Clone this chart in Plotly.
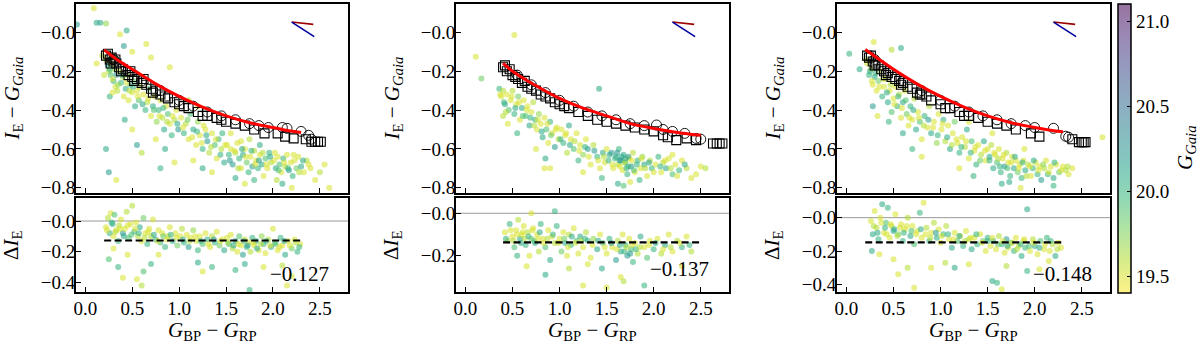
import plotly.graph_objects as go

W, H = 1200, 344
FONT = "Liberation Serif, Times New Roman, DejaVu Serif, serif"

# ------------------------------------------------------------------ data
# panel 1 (top): colour vs I_E - G_Gaia, with G_Gaia colour
p1_top_x = [0.22,0.24,0.25,0.27,0.28,0.3,0.31,0.32,0.33,0.34,0.2,0.26,0.29,0.22,0.25,0.33,0.18,0.12,
            0.36,0.38,0.4,0.41,0.43,0.45,0.46,0.48,0.5,0.52,0.53,0.55,0.57,0.58,0.42,0.5,0.55,0.6,0.44,0.37,0.41,0.5,0.65,
            0.62,0.64,0.66,0.68,0.7,0.72,0.74,0.76,0.78,0.8,0.82,0.84,0.86,0.88,0.9,0.92,0.95,0.97,0.99,0.75,0.85,0.95,0.7,0.9,0.8,
            1.02,1.05,1.07,1.1,1.12,1.15,1.18,1.2,1.22,1.25,1.28,1.3,1.32,1.35,1.38,1.4,1.42,1.45,1.48,1.15,1.25,1.35,1.1,1.2,
            1.51,1.53,1.55,1.57,1.6,1.62,1.64,1.66,1.68,1.7,1.72,1.74,1.76,1.78,1.8,1.82,1.84,1.86,1.88,1.9,1.92,1.94,1.96,1.98,1.6,1.7,1.8,1.55,1.75,
            2.01,2.03,2.05,2.07,2.09,2.11,2.13,2.15,2.17,2.19,2.21,2.23,2.25,2.27,2.3,2.33,2.36,2.4,2.45,2.5,2.55,2.6,2.1,2.2,
            0.09,0.12,0.16,0.22,-0.09]
p1_top_y = [-0.14,-0.17,-0.2,-0.22,-0.16,-0.25,-0.19,-0.28,-0.22,-0.3,-0.22,-0.33,-0.31,-0.6,-0.72,-0.76,-0.12,-0.16,
            -0.2,-0.26,-0.23,-0.33,-0.29,-0.22,-0.35,-0.27,-0.31,-0.25,-0.38,-0.3,-0.35,-0.28,-0.45,-0.5,-0.58,-0.62,0.01,-0.01,-0.07,-0.1,-0.06,
            -0.32,-0.4,-0.36,-0.29,-0.43,-0.38,-0.33,-0.46,-0.4,-0.35,-0.44,-0.5,-0.38,-0.42,-0.47,-0.53,-0.45,-0.4,-0.5,-0.55,-0.6,-0.67,-0.13,-0.18,-0.7,
            -0.44,-0.52,-0.47,-0.55,-0.42,-0.5,-0.58,-0.46,-0.53,-0.6,-0.5,-0.56,-0.62,-0.52,-0.58,-0.65,-0.55,-0.6,-0.67,-0.66,-0.7,-0.72,-0.35,-0.38,
            -0.58,-0.63,-0.6,-0.68,-0.62,-0.57,-0.65,-0.7,-0.63,-0.6,-0.67,-0.72,-0.64,-0.69,-0.61,-0.66,-0.7,-0.63,-0.68,-0.74,-0.65,-0.7,-0.62,-0.67,-0.75,-0.78,-0.76,-0.52,-0.55,
            -0.66,-0.7,-0.64,-0.68,-0.72,-0.65,-0.69,-0.63,-0.71,-0.67,-0.74,-0.66,-0.7,-0.64,-0.69,-0.72,-0.66,-0.7,-0.76,-0.72,-0.68,-0.8,-0.78,-0.8,
            0.124,0.05,0.05,0.046,0.04]
p1_top_g = [19.5,20.1,19.6,19.9,19.5,20.0,19.7,19.5,20.2,19.6,19.55,20.0,19.5,20.1,20.2,19.5,19.6,19.5,
            19.5,20.0,19.6,19.5,20.1,19.7,19.5,20.0,19.5,19.8,20.1,19.5,19.9,19.6,20.1,19.5,20.2,19.6,20.1,19.5,20.2,19.5,19.5,
            19.5,20.0,19.6,19.9,19.5,20.1,19.5,19.7,20.0,19.5,19.6,20.1,19.5,19.9,19.5,20.0,19.6,19.5,20.2,19.5,20.1,19.5,19.5,19.5,20.0,
            19.5,20.0,19.6,19.5,19.9,20.1,19.5,19.7,19.5,20.0,19.5,20.2,19.6,19.5,19.9,19.5,20.0,19.6,20.1,19.5,20.1,19.5,19.6,19.5,
            19.5,20.0,19.5,20.2,19.6,19.5,20.0,19.5,20.1,19.5,19.8,20.0,19.5,20.2,19.6,19.5,20.0,19.5,20.1,19.5,19.9,19.5,20.0,19.6,20.1,19.5,20.0,19.5,19.6,
            19.5,20.1,19.5,19.9,19.5,20.0,19.6,19.5,20.2,19.5,20.0,19.5,19.8,19.5,20.1,19.5,19.6,19.5,19.5,19.6,19.5,19.5,20.1,19.5,
            19.5,20.1,20.1,19.7,20.2]
p1_top2_x = [0.26,0.29,0.35,0.39,0.44,0.47,0.51,0.56,0.61,0.67,0.73,0.79,0.83,0.87,0.93,0.98,1.04,1.09,1.14,1.19,
             1.24,1.29,1.34,1.39,1.44,1.49,1.54,1.59,1.63,1.67,1.71,1.77,1.81,1.85,1.89,1.93,1.97,2.02,2.06,2.12,
             2.16,2.22,2.28,2.32,2.38,1.26,1.46,1.66,1.86,2.04]
p1_top2_y = [-0.19,-0.24,-0.27,-0.22,-0.26,-0.3,-0.28,-0.33,-0.37,-0.34,-0.4,-0.43,-0.39,-0.46,-0.43,-0.47,-0.49,-0.45,-0.54,-0.51,
             -0.57,-0.53,-0.59,-0.55,-0.63,-0.58,-0.66,-0.61,-0.7,-0.6,-0.64,-0.61,-0.68,-0.66,-0.62,-0.68,-0.64,-0.62,-0.71,-0.67,
             -0.7,-0.63,-0.72,-0.66,-0.68,-0.48,-0.52,-0.56,-0.58,-0.76]
p1_top2_g = [20.0,19.5,19.7,20.1,19.5,19.6,20.0,19.5,20.1,19.5,19.9,19.5,20.0,19.6,19.5,20.1,19.5,19.8,19.5,20.0,
             19.5,20.1,19.6,19.5,20.0,19.5,20.2,19.5,19.6,20.1,19.5,20.0,19.5,20.2,19.6,19.5,20.1,19.5,19.9,19.5,
             20.0,19.5,19.6,20.1,19.5,19.5,20.0,19.5,20.1,19.6]

# panel 1 (bottom): residuals
p1_bot_x = [0.22,0.24,0.26,0.27,0.29,0.3,0.31,0.33,0.35,0.36,0.38,0.4,0.42,0.44,0.46,0.48,0.5,0.3,0.35,0.4,0.25,0.45,
            0.52,0.54,0.56,0.58,0.6,0.62,0.64,0.66,0.68,0.7,0.72,0.75,0.78,0.8,0.82,0.85,0.88,0.9,0.93,0.96,0.98,0.55,0.6,0.7,0.78,0.62,
            1.01,1.03,1.05,1.08,1.1,1.12,1.15,1.18,1.2,1.22,1.25,1.28,1.3,1.33,1.35,1.38,1.4,1.43,1.46,1.48,1.2,1.25,1.35,
            1.51,1.53,1.55,1.57,1.6,1.62,1.64,1.66,1.68,1.7,1.72,1.74,1.76,1.78,1.8,1.82,1.85,1.88,1.9,1.92,
            1.95,1.98,2.0,2.02,2.05,2.08,2.1,2.13,2.16,2.2,2.23,2.26,2.29,1.7,1.75,1.9,2.1,2.2,1.6,2.15]
p1_bot_y = [-0.04,0.02,-0.08,0.05,-0.02,-0.1,0.04,-0.06,-0.13,-0.03,0.01,-0.08,-0.05,0.06,-0.11,-0.02,0.1,-0.18,-0.3,-0.37,-0.25,-0.22,
            -0.07,-0.01,-0.1,-0.04,-0.13,0.02,-0.08,-0.15,-0.05,-0.1,0.01,-0.12,-0.06,-0.14,-0.08,-0.17,-0.1,-0.04,-0.13,-0.08,-0.16,-0.38,-0.42,-0.28,-0.22,-0.33,
            -0.1,-0.05,-0.14,-0.09,-0.17,-0.11,-0.06,-0.13,-0.19,-0.1,-0.15,-0.08,-0.12,-0.17,-0.1,-0.14,-0.07,-0.16,-0.12,-0.19,-0.27,-0.33,-0.3,
            -0.11,-0.15,-0.09,-0.18,-0.13,-0.2,-0.1,-0.16,-0.22,-0.12,-0.17,-0.14,-0.2,-0.11,-0.16,-0.13,-0.19,-0.1,-0.15,-0.21,
            -0.12,-0.17,-0.05,-0.14,-0.19,-0.11,-0.16,-0.22,-0.13,-0.18,-0.12,-0.2,-0.15,-0.28,-0.45,-0.3,-0.29,-0.36,-0.32,-0.42]
p1_bot_g = [19.5,19.6,20.0,19.5,20.1,19.5,19.9,19.5,20.0,19.6,19.5,20.2,19.5,19.6,19.9,19.5,19.6,19.5,20.0,19.5,19.9,19.5,
            20.0,19.5,19.6,20.1,19.5,19.8,19.5,20.0,19.5,19.6,19.5,20.1,19.5,19.9,19.5,20.0,19.6,19.5,20.1,19.5,19.8,19.5,19.6,20.0,19.5,19.9,
            19.5,19.6,20.0,19.5,20.2,19.5,19.7,19.5,20.0,19.5,19.9,19.5,20.1,19.5,19.6,20.0,19.5,19.8,19.5,20.1,20.1,19.5,20.0,
            19.5,20.0,19.5,19.6,20.1,19.5,19.9,19.5,20.2,19.5,20.0,19.5,19.6,20.0,19.5,20.1,19.5,19.7,20.0,19.5,
            19.6,20.1,19.5,19.9,19.5,20.0,19.5,20.1,19.5,19.8,19.5,20.0,19.5,20.1,20.0,19.5,19.6,19.5,20.0,19.5]
p1_bot2_x = [0.23,0.28,0.32,0.37,0.41,0.45,0.49,0.53,0.57,0.63,0.67,0.73,0.77,0.83,0.87,0.91,0.97,1.04,1.11,1.17,
             1.23,1.31,1.37,1.44,1.52,1.58,1.63,1.69,1.73,1.79,1.83,1.87,1.93,1.97,2.03,2.07,2.12,2.18,2.24,2.28]
p1_bot2_y = [-0.06,-0.01,-0.07,-0.05,-0.1,-0.03,-0.09,-0.05,-0.08,-0.11,-0.07,-0.09,-0.13,-0.1,-0.12,-0.09,-0.11,-0.12,-0.13,-0.1,
             -0.13,-0.15,-0.12,-0.13,-0.14,-0.16,-0.15,-0.13,-0.16,-0.14,-0.18,-0.15,-0.13,-0.16,-0.15,-0.17,-0.13,-0.16,-0.14,-0.17]
p1_bot2_g = [19.5,20.0,19.6,19.5,20.1,19.5,19.9,19.5,20.0,19.6,19.5,20.1,19.5,19.8,19.5,20.0,19.5,20.1,19.6,19.5,
             20.0,19.5,20.2,19.5,19.6,20.1,19.5,20.0,20.2,19.5,20.1,19.6,20.0,19.5,19.9,19.5,20.1,19.5,19.6,20.0]

# panel 2 (top)
p2_top_x = [0.11,0.17,0.52,1.42,0.84,
            0.36,0.38,0.4,0.42,0.44,0.46,0.48,0.5,0.52,0.54,0.56,0.58,0.6,0.45,0.55,0.4,
            0.62,0.64,0.66,0.68,0.7,0.72,0.74,0.76,0.78,0.8,0.82,0.84,0.86,0.88,0.9,0.92,0.95,0.97,0.99,0.75,0.85,0.9,
            1.02,1.04,1.06,1.08,1.1,1.12,1.15,1.18,1.2,1.22,1.25,1.28,1.3,1.33,1.36,1.4,1.43,1.46,1.48,1.25,1.45,
            1.5,1.52,1.55,1.57,1.6,1.62,1.63,1.65,1.67,1.68,1.7,1.72,1.74,1.76,1.78,1.8,1.83,1.86,1.88,1.9,1.93,1.96,1.98,1.62,1.68,1.75,1.85,
            2.02,2.05,2.08,2.1,2.13,2.16,2.2,2.23,2.27,2.3,2.35,2.4,2.5,2.55,2.2]
p2_top_y = [-0.125,-0.237,-0.014,-0.29,-0.7,
            -0.29,-0.33,-0.3,-0.37,-0.32,-0.4,-0.35,-0.3,-0.42,-0.37,-0.33,-0.45,-0.39,-0.47,-0.52,-0.43,
            -0.35,-0.43,-0.38,-0.48,-0.41,-0.36,-0.45,-0.5,-0.42,-0.47,-0.54,-0.44,-0.5,-0.57,-0.46,-0.52,-0.59,-0.49,-0.55,-0.6,-0.65,-0.7,
            -0.5,-0.57,-0.53,-0.62,-0.48,-0.55,-0.6,-0.52,-0.66,-0.58,-0.63,-0.55,-0.6,-0.68,-0.58,-0.64,-0.7,-0.62,-0.67,-0.72,-0.75,
            -0.6,-0.66,-0.62,-0.7,-0.64,-0.68,-0.6,-0.66,-0.71,-0.63,-0.67,-0.73,-0.65,-0.69,-0.62,-0.72,-0.66,-0.7,-0.64,-0.68,-0.74,-0.66,-0.7,-0.78,-0.79,-0.77,-0.76,
            -0.68,-0.64,-0.72,-0.67,-0.7,-0.65,-0.73,-0.68,-0.71,-0.66,-0.7,-0.75,-0.69,-0.7,-0.63]
p2_top_g = [19.5,19.8,19.5,20.1,19.5,
            20.0,19.5,19.6,20.1,19.5,19.9,19.5,19.6,20.0,19.5,19.8,19.5,20.1,19.5,20.0,19.6,
            19.5,19.9,19.5,20.1,19.5,19.6,20.0,19.5,19.7,19.5,20.1,19.5,19.9,19.5,20.0,19.5,20.2,19.5,19.6,19.5,20.1,19.5,
            19.5,20.0,19.5,19.6,20.1,19.5,19.9,19.5,20.0,19.5,19.7,19.5,20.2,19.5,19.6,20.0,19.5,20.1,19.5,19.5,20.0,
            19.5,20.0,20.2,19.5,20.1,19.6,20.0,20.2,19.5,20.1,19.9,20.0,19.5,20.2,19.6,19.5,20.0,19.5,19.7,20.1,19.5,19.6,20.0,20.1,19.9,19.5,20.0,
            19.5,20.0,19.5,19.6,20.1,19.5,19.9,19.5,20.0,19.5,19.6,19.5,19.5,19.6,19.5]
p2_top2_x = [0.37,0.41,0.43,0.49,0.53,0.57,0.61,0.65,0.69,0.73,0.77,0.81,0.87,0.91,0.96,1.01,1.07,1.11,1.16,1.21,
             1.27,1.31,1.37,1.41,1.47,1.53,1.56,1.59,1.61,1.64,1.66,1.69,1.71,1.73,1.77,1.79,1.82,1.87,1.91,1.95,
             2.0,2.07,2.12,2.18,2.25,2.33,2.45,1.64,1.7,1.73]
p2_top2_y = [-0.32,-0.36,-0.41,-0.33,-0.39,-0.36,-0.43,-0.4,-0.44,-0.48,-0.45,-0.51,-0.47,-0.53,-0.5,-0.55,-0.52,-0.58,-0.56,-0.61,
             -0.59,-0.64,-0.61,-0.66,-0.64,-0.63,-0.68,-0.65,-0.62,-0.69,-0.64,-0.67,-0.7,-0.64,-0.66,-0.71,-0.68,-0.65,-0.7,-0.67,
             -0.72,-0.69,-0.66,-0.7,-0.74,-0.68,-0.73,-0.66,-0.65,-0.69]
p2_top2_g = [19.5,20.0,19.6,19.5,20.1,19.5,19.9,19.5,20.0,19.6,19.5,20.1,19.5,19.8,19.5,20.0,19.5,20.1,19.6,19.5,
             20.0,19.5,20.2,19.5,19.6,20.1,19.5,20.0,20.2,19.5,20.1,19.6,20.0,20.2,19.5,19.9,20.0,19.5,19.6,20.1,
             19.5,20.0,19.5,19.6,19.5,20.1,19.5,20.2,20.1,20.0]

# panel 2 (bottom)
p2_bot_x = [0.42,0.45,0.47,0.5,0.52,0.54,0.56,0.58,0.6,0.62,0.64,0.66,0.68,0.7,0.72,0.74,0.76,0.78,0.8,0.82,
            0.85,0.88,0.9,0.92,0.95,0.97,1.0,1.02,1.04,1.06,1.08,1.1,1.12,1.15,1.18,1.2,1.22,1.25,1.28,1.3,
            1.33,1.36,1.4,1.43,1.46,1.5,1.53,1.56,1.6,1.62,1.65,1.67,1.7,1.72,1.74,1.76,1.78,1.8,1.83,1.86,
            1.9,1.93,1.96,2.0,2.04,2.08,2.12,2.16,2.2,2.25,2.3,2.35,2.4,
            0.95,0.7,0.65,0.85,1.1,1.3,1.65,1.68,1.9,1.5,1.25,2.3,1.45,0.55]
p2_bot_y = [-0.09,-0.13,-0.05,-0.11,-0.16,-0.08,-0.03,-0.12,-0.1,-0.06,-0.15,-0.09,-0.2,-0.12,-0.07,-0.14,-0.1,-0.18,-0.05,-0.12,
            -0.16,-0.08,-0.22,-0.11,-0.14,-0.06,-0.12,-0.18,-0.09,-0.14,-0.2,-0.1,-0.15,-0.07,-0.13,-0.19,-0.11,-0.16,-0.09,-0.13,
            -0.21,-0.12,-0.17,-0.1,-0.14,-0.19,-0.12,-0.16,-0.22,-0.13,-0.18,-0.1,-0.15,-0.2,-0.12,-0.17,-0.23,-0.14,-0.19,-0.11,
            -0.16,-0.21,-0.13,-0.17,-0.12,-0.19,-0.15,-0.1,-0.18,-0.13,-0.16,-0.11,-0.18,
            0.01,-0.0,-0.25,-0.29,-0.26,-0.24,-0.3,-0.32,-0.34,-0.35,-0.34,-0.25,-0.26,-0.2]
p2_bot_g = [19.5,19.6,20.0,19.5,19.9,19.5,19.6,20.1,19.5,19.5,20.0,19.6,19.5,19.8,19.5,20.1,19.5,19.6,20.0,19.5,
            19.9,19.5,20.1,19.5,19.6,20.0,19.5,19.8,19.5,20.1,19.5,19.6,20.0,19.5,19.9,19.5,20.1,19.5,19.6,20.0,
            19.5,19.7,20.1,19.5,19.9,19.5,20.0,19.5,20.2,19.6,20.1,19.5,20.0,20.2,19.5,19.9,20.0,19.5,19.6,20.1,
            19.5,19.9,19.5,20.0,19.5,19.6,20.1,19.5,19.5,19.6,20.0,19.5,19.6,
            20.0,19.5,19.5,20.1,19.6,19.5,19.5,19.6,20.0,19.5,19.5,19.5,20.1,20.0]
p2_bot2_x = [0.43,0.48,0.51,0.55,0.59,0.61,0.63,0.67,0.71,0.73,0.77,0.79,0.83,0.87,0.93,0.99,1.05,1.09,1.13,1.17,
             1.23,1.27,1.35,1.41,1.48,1.55,1.61,1.64,1.69,1.71,1.75,1.77,1.81,1.85,1.95,2.02,2.1,2.18,2.28,2.38]
p2_bot2_y = [-0.12,-0.08,-0.13,-0.1,-0.14,-0.09,-0.12,-0.11,-0.08,-0.13,-0.12,-0.09,-0.14,-0.12,-0.1,-0.14,-0.12,-0.16,-0.11,-0.14,
             -0.13,-0.12,-0.15,-0.13,-0.16,-0.14,-0.17,-0.15,-0.18,-0.16,-0.19,-0.15,-0.17,-0.16,-0.15,-0.14,-0.17,-0.16,-0.14,-0.15]
p2_bot2_g = [20.0,19.5,19.6,19.5,20.1,19.5,19.6,20.0,19.5,19.9,19.5,20.1,19.5,19.6,20.0,19.5,19.8,19.5,20.1,19.5,
             19.6,20.0,19.5,20.1,19.5,20.2,19.5,20.1,20.0,19.6,20.2,19.5,20.0,19.6,19.5,20.1,19.5,19.6,19.5,20.0]

# panel 3 (top)
p3_top_x = [0.03,0.14,0.29,0.58,0.48,2.72,
            0.22,0.24,0.26,0.28,0.3,0.32,0.34,0.36,0.38,0.4,0.42,0.44,0.46,0.48,0.5,0.28,0.33,0.45,
            0.52,0.54,0.56,0.58,0.6,0.62,0.64,0.66,0.68,0.7,0.72,0.74,0.76,0.78,0.8,0.83,0.86,0.88,0.9,0.93,0.96,0.98,0.7,0.8,0.6,
            1.01,1.03,1.05,1.08,1.1,1.13,1.15,1.18,1.2,1.23,1.26,1.28,1.3,1.33,1.36,1.38,1.4,1.43,1.46,1.48,1.2,1.35,1.3,
            1.5,1.52,1.54,1.56,1.58,1.6,1.62,1.64,1.66,1.68,1.7,1.72,1.74,1.76,1.78,1.8,1.82,1.84,1.86,1.88,1.9,1.93,1.96,1.98,1.65,1.85,1.55,
            2.01,2.03,2.05,2.07,2.1,2.12,2.14,2.17,2.2,2.23,2.26,2.3,2.33,2.36,2.4,2.2]
p3_top_y = [-0.11,-0.19,-0.05,-0.08,-0.09,-0.54,
            -0.16,-0.22,-0.19,-0.27,-0.23,-0.3,-0.25,-0.2,-0.33,-0.28,-0.24,-0.36,-0.3,-0.41,-0.34,-0.38,-0.43,-0.46,
            -0.28,-0.38,-0.32,-0.44,-0.36,-0.3,-0.42,-0.48,-0.38,-0.45,-0.34,-0.5,-0.41,-0.46,-0.55,-0.43,-0.49,-0.38,-0.52,-0.46,-0.57,-0.42,-0.6,-0.64,-0.52,
            -0.5,-0.45,-0.56,-0.48,-0.6,-0.52,-0.46,-0.57,-0.62,-0.54,-0.59,-0.5,-0.65,-0.56,-0.61,-0.68,-0.58,-0.63,-0.56,-0.66,-0.7,-0.74,-0.46,
            -0.6,-0.66,-0.58,-0.7,-0.63,-0.67,-0.6,-0.72,-0.65,-0.69,-0.62,-0.67,-0.74,-0.64,-0.7,-0.66,-0.72,-0.68,-0.75,-0.66,-0.71,-0.68,-0.74,-0.7,-0.78,-0.8,-0.52,
            -0.67,-0.73,-0.69,-0.76,-0.7,-0.66,-0.73,-0.69,-0.75,-0.68,-0.72,-0.69,-0.71,-0.73,-0.7,-0.79]
p3_top_g = [20.0,20.1,19.5,20.1,19.6,19.5,
            19.5,20.0,19.6,19.5,20.1,19.5,19.8,19.5,20.0,19.5,19.6,20.1,19.5,19.9,19.5,20.2,19.5,20.0,
            19.5,20.0,19.6,19.5,20.1,19.5,19.8,19.5,20.0,19.5,19.6,20.1,19.5,19.9,19.5,20.0,19.5,19.6,20.1,19.5,19.7,19.5,20.0,19.5,20.1,
            19.5,20.0,19.6,19.5,20.1,19.5,19.8,19.5,20.0,19.5,19.6,20.1,19.5,19.9,19.5,20.0,19.5,19.6,20.1,19.5,19.5,20.0,19.5,
            19.5,20.0,19.6,20.1,19.5,19.9,19.5,20.0,19.5,20.2,19.6,19.5,20.0,19.5,20.1,19.5,19.8,19.5,20.0,19.5,20.1,19.6,19.5,20.0,20.1,19.5,19.5,
            19.5,20.0,19.5,20.2,19.6,19.5,20.0,19.5,20.1,19.5,19.8,19.5,19.6,19.5,19.5,20.0]
p3_top2_x = [0.21,0.25,0.27,0.31,0.35,0.39,0.43,0.47,0.51,0.55,0.59,0.63,0.67,0.71,0.77,0.82,0.87,0.92,0.97,1.02,
             1.07,1.12,1.17,1.22,1.27,1.32,1.37,1.42,1.47,1.52,1.57,1.61,1.63,1.67,1.71,1.75,1.79,1.83,1.87,1.91,
             1.95,1.99,2.04,2.09,2.15,2.21,2.28,2.35,1.73,1.89]
p3_top2_y = [-0.14,-0.2,-0.25,-0.21,-0.28,-0.24,-0.31,-0.27,-0.37,-0.33,-0.39,-0.35,-0.44,-0.4,-0.44,-0.48,-0.45,-0.49,-0.53,-0.47,
             -0.54,-0.58,-0.55,-0.59,-0.56,-0.62,-0.59,-0.66,-0.61,-0.64,-0.62,-0.65,-0.69,-0.63,-0.7,-0.67,-0.64,-0.7,-0.67,-0.74,
             -0.69,-0.66,-0.71,-0.68,-0.72,-0.67,-0.71,-0.69,-0.77,-0.6]
p3_top2_g = [19.6,20.1,19.5,20.0,19.5,19.5,20.1,19.6,19.5,20.0,19.5,19.9,19.5,20.1,19.5,19.6,20.2,19.5,20.0,19.5,
             20.1,19.6,19.5,20.0,19.5,20.0,19.5,19.8,19.5,20.1,19.5,19.6,20.0,19.5,19.9,19.5,20.1,19.5,20.0,19.6,
             19.5,20.1,19.5,19.7,19.5,20.0,19.5,19.6,20.1,19.5]

# panel 3 (bottom)
p3_bot_x = [0.26,0.28,0.3,0.32,0.34,0.36,0.38,0.4,0.42,0.44,0.46,0.48,0.5,0.52,0.55,0.58,0.6,0.62,0.65,0.68,
            0.7,0.72,0.75,0.78,0.8,0.82,0.85,0.88,0.9,0.93,0.96,0.98,
            1.0,1.03,1.06,1.09,1.12,1.15,1.18,1.21,1.24,1.27,1.3,1.33,1.36,1.39,1.42,1.45,1.48,
            1.5,1.53,1.56,1.59,1.62,1.65,1.68,1.7,1.72,1.75,1.78,1.8,1.83,1.86,1.88,1.9,1.92,1.95,1.98,2.0,
            2.03,2.06,2.1,2.13,2.16,2.19,2.22,2.25,2.28,
            0.27,0.5,0.55,0.65,0.72,0.9,1.05,1.15,1.3,1.55,1.6,1.65,1.7,1.92,2.05,2.15,0.35]
p3_bot_y = [-0.02,-0.1,0.04,-0.06,-0.13,0.0,0.08,-0.09,-0.03,0.06,-0.12,-0.05,-0.08,0.02,-0.1,-0.04,-0.14,-0.07,0.0,-0.11,
            -0.05,-0.16,-0.08,0.03,-0.12,0.09,-0.06,-0.14,-0.09,-0.03,-0.12,-0.07,
            -0.15,-0.1,-0.05,-0.13,-0.18,-0.09,-0.14,-0.11,-0.17,-0.08,-0.13,-0.19,-0.12,-0.16,-0.1,-0.14,-0.2,
            -0.12,-0.17,-0.14,-0.19,-0.11,-0.16,-0.21,-0.13,-0.18,-0.15,-0.2,-0.12,-0.17,-0.23,-0.14,-0.18,0.05,-0.2,-0.13,-0.17,
            -0.22,-0.14,-0.19,-0.12,-0.2,-0.16,-0.23,-0.15,-0.18,
            -0.2,-0.25,-0.34,-0.3,-0.42,-0.3,-0.27,-0.3,-0.28,-0.38,-0.39,-0.43,-0.29,-0.32,-0.31,-0.26,-0.22]
p3_bot_g = [19.5,20.1,19.5,19.6,20.0,19.5,20.1,19.5,19.9,20.0,19.5,19.6,20.1,19.5,19.8,19.5,20.0,19.5,19.6,20.1,
            19.5,19.9,19.5,20.0,19.5,19.5,19.6,20.0,19.5,19.6,20.1,19.5,
            19.5,20.0,19.6,19.5,20.1,19.5,19.9,19.5,20.0,19.5,19.6,20.1,19.5,20.0,19.5,19.8,19.5,
            20.0,19.5,20.1,19.5,19.6,20.0,19.5,20.2,19.5,19.9,20.0,19.5,19.6,20.1,19.5,20.0,20.1,19.5,19.6,20.1,
            19.5,19.9,19.5,20.0,19.5,19.6,20.1,19.5,19.5,
            20.1,19.5,19.5,19.6,19.5,19.5,19.6,20.1,19.5,20.1,20.0,19.5,19.6,20.0,19.5,19.5,19.5]
p3_bot2_x = [0.29,0.33,0.37,0.41,0.43,0.47,0.51,0.54,0.57,0.61,0.64,0.69,0.74,0.79,0.84,0.89,0.95,1.01,1.08,1.14,
             1.2,1.26,1.32,1.38,1.44,1.5,1.55,1.61,1.66,1.71,1.76,1.81,1.85,1.89,1.94,1.99,2.05,2.11,2.17,2.24]
p3_bot2_y = [-0.05,-0.09,-0.03,-0.06,-0.1,-0.04,-0.07,-0.11,-0.06,-0.09,-0.05,-0.08,-0.1,-0.07,-0.1,-0.12,-0.09,-0.11,-0.1,-0.13,
             -0.11,-0.14,-0.12,-0.1,-0.15,-0.14,-0.12,-0.16,-0.14,-0.17,-0.15,-0.19,-0.16,-0.13,-0.17,-0.15,-0.18,-0.16,-0.14,-0.19]
p3_bot2_g = [19.6,20.1,19.5,20.0,19.5,19.5,20.1,19.6,19.5,20.0,19.5,19.9,19.5,20.1,19.5,19.6,20.2,19.5,20.0,19.5,
             20.1,19.6,19.5,20.0,19.5,20.0,19.5,19.8,19.5,20.1,19.5,19.6,20.0,19.5,19.9,19.5,20.1,19.5,20.0,19.6]

# reference locus: open squares and open circles
p1_sq_x = [0.22,0.24,0.26,0.28,0.3,0.33,0.36,0.4,0.43,0.46,0.5,0.55,0.6,0.65,0.7,0.75,0.8,0.88,0.95,1.0,1.1,1.2,1.3,1.4,1.5,1.6,1.7,1.8,1.91,2.05,2.13,2.22,2.35,2.41,2.45,2.48,2.51,
           0.27,0.32,0.38,0.48,0.52,0.62,0.72,0.85,1.05,1.25,1.45]
p1_sq_y = [-0.12,-0.11,-0.14,-0.13,-0.15,-0.16,-0.18,-0.19,-0.2,-0.22,-0.23,-0.24,-0.26,-0.27,-0.29,-0.3,-0.32,-0.34,-0.36,-0.37,-0.39,-0.41,-0.43,-0.44,-0.46,-0.47,-0.48,-0.5,-0.52,-0.52,-0.537,-0.546,-0.55,-0.563,-0.563,-0.563,-0.563,
           -0.16,-0.14,-0.2,-0.2,-0.25,-0.24,-0.31,-0.33,-0.38,-0.43,-0.45]
p1_ci_x = [0.3,0.45,0.6,0.8,1.0,1.15,1.3,1.45,1.6,1.75,1.85,1.95,2.1,2.15,2.3,2.38,2.41]
p1_ci_y = [-0.14,-0.2,-0.25,-0.3,-0.35,-0.38,-0.41,-0.43,-0.45,-0.47,-0.48,-0.49,-0.49,-0.494,-0.51,-0.53,-0.55]

p2_sq_x = [0.4,0.42,0.44,0.47,0.5,0.53,0.56,0.6,0.63,0.66,0.7,0.75,0.8,0.85,0.9,0.95,1.0,1.05,1.1,1.2,1.3,1.4,1.5,1.6,1.7,1.8,1.9,2.0,2.1,2.15,2.24,2.35,2.45,2.63,2.67,2.7,2.73]
p2_sq_y = [-0.18,-0.17,-0.2,-0.19,-0.22,-0.23,-0.24,-0.26,-0.25,-0.28,-0.29,-0.3,-0.32,-0.33,-0.34,-0.36,-0.37,-0.38,-0.39,-0.41,-0.43,-0.45,-0.46,-0.47,-0.48,-0.49,-0.5,-0.51,-0.53,-0.54,-0.555,-0.546,-0.555,-0.572,-0.572,-0.572,-0.572]
p2_ci_x = [0.55,0.7,0.85,1.0,1.15,1.3,1.45,1.6,1.75,1.9,2.03,2.1,2.2,2.33,2.45,2.5]
p2_ci_y = [-0.22,-0.27,-0.31,-0.35,-0.38,-0.41,-0.43,-0.45,-0.47,-0.48,-0.477,-0.5,-0.51,-0.52,-0.546,-0.55]

p3_sq_x = [0.22,0.24,0.26,0.28,0.31,0.34,0.37,0.4,0.44,0.48,0.52,0.56,0.6,0.65,0.7,0.75,0.8,0.85,0.9,1.0,1.1,1.2,1.3,1.4,1.5,1.6,1.7,1.8,1.96,2.05,2.4,2.47,2.5,2.52,2.54,
           0.3,0.42,0.58,0.78,1.05,1.25]
p3_sq_y = [-0.12,-0.13,-0.12,-0.15,-0.16,-0.17,-0.19,-0.2,-0.21,-0.23,-0.24,-0.25,-0.26,-0.28,-0.29,-0.31,-0.32,-0.33,-0.35,-0.37,-0.39,-0.41,-0.43,-0.44,-0.46,-0.47,-0.48,-0.5,-0.52,-0.537,-0.55,-0.565,-0.565,-0.565,-0.565,
           -0.17,-0.22,-0.27,-0.32,-0.39,-0.43]
p3_ci_x = [0.3,0.45,0.6,0.8,1.0,1.15,1.3,1.45,1.6,1.75,1.9,2.0,2.2,2.33,2.36]
p3_ci_y = [-0.14,-0.2,-0.25,-0.3,-0.35,-0.38,-0.41,-0.43,-0.45,-0.47,-0.48,-0.49,-0.494,-0.535,-0.54]

# fitted relations (red curves)
p1_fit_x = [0.2,0.35,0.5,0.75,1.0,1.25,1.5,1.75,2.0,2.15,2.3]
p1_fit_y = [-0.09,-0.145,-0.19,-0.265,-0.33,-0.385,-0.43,-0.465,-0.49,-0.505,-0.515]
p2_fit_x = [0.4,0.5,0.75,1.0,1.25,1.5,1.75,2.0,2.25,2.5]
p2_fit_y = [-0.16,-0.2,-0.275,-0.34,-0.39,-0.43,-0.47,-0.495,-0.515,-0.53]
p3_fit_x = [0.2,0.35,0.5,0.75,1.0,1.25,1.5,1.75,2.0,2.15,2.3]
p3_fit_y = [-0.088,-0.14,-0.19,-0.265,-0.33,-0.385,-0.43,-0.465,-0.49,-0.503,-0.512]

# median offsets and colour ranges of the dashed lines
offsets = [-0.127, -0.137, -0.148]
offset_x0 = [0.2, 0.4, 0.2]
offset_x1 = [2.3, 2.5, 2.3]

# reddening vectors
vec_red_x = [2.2, 2.43]
vec_red_y = [0.053, 0.041]
vec_blue_x = [2.2, 2.44]
vec_blue_y = [0.053, -0.022]

x_ticks = [0.0, 0.5, 1.0, 1.5, 2.0, 2.5]
x_ticktext = ["0.0", "0.5", "1.0", "1.5", "2.0", "2.5"]
top_ticks = [-0.8, -0.6, -0.4, -0.2, 0.0]
top_ticktext = ["−0.8", "−0.6", "−0.4", "−0.2", "−0.0"]
bot_ticks = [[-0.4, -0.2, 0.0], [-0.2, 0.0], [-0.4, -0.2, 0.0]]
bot_ticktext = [["−0.4", "−0.2", "−0.0"], ["−0.2", "−0.0"], ["−0.4", "−0.2", "−0.0"]]
cb_ticks = [19.5, 20.0, 20.5, 21.0]
cb_ticktext = ["19.5", "20.0", "20.5", "21.0"]
g_min, g_max = 19.40, 21.10

# ------------------------------------------------------------------ layout constants
cols_px = [(76, 348), (456, 729), (837, 1110)]
top_px = (4, 193)
bot_px = (198, 292)
x_range = [-0.1, 2.8]
top_range = [-0.827, 0.146]
bot_ranges = [[-0.463, 0.15], [-0.371, 0.072], [-0.446, 0.118]]
label_pos = [(2.62, -0.345), (2.61, -0.263), (2.63, -0.34)]

VIRIDIS = ['#440154', '#482878', '#3e4989', '#31688e', '#26828e',
           '#1f9e89', '#35b779', '#6ece58', '#b5de2b', '#fde725']


def rgba(h, a):
    h = h.lstrip('#')
    return "rgba(%d,%d,%d,%.2f)" % (int(h[0:2], 16), int(h[2:4], 16), int(h[4:6], 16), a)


cscale = [[i / 9, rgba(c, 0.55)] for i, c in enumerate(reversed(VIRIDIS))]

tops = [[(p1_top_x, p1_top_y, p1_top_g), (p1_top2_x, p1_top2_y, p1_top2_g)],
        [(p2_top_x, p2_top_y, p2_top_g), (p2_top2_x, p2_top2_y, p2_top2_g)],
        [(p3_top_x, p3_top_y, p3_top_g), (p3_top2_x, p3_top2_y, p3_top2_g)]]
bots = [[(p1_bot_x, p1_bot_y, p1_bot_g), (p1_bot2_x, p1_bot2_y, p1_bot2_g)],
        [(p2_bot_x, p2_bot_y, p2_bot_g), (p2_bot2_x, p2_bot2_y, p2_bot2_g)],
        [(p3_bot_x, p3_bot_y, p3_bot_g), (p3_bot2_x, p3_bot2_y, p3_bot2_g)]]
squares = [(p1_sq_x, p1_sq_y), (p2_sq_x, p2_sq_y), (p3_sq_x, p3_sq_y)]
circles = [(p1_ci_x, p1_ci_y), (p2_ci_x, p2_ci_y), (p3_ci_x, p3_ci_y)]
fits = [(p1_fit_x, p1_fit_y), (p2_fit_x, p2_fit_y), (p3_fit_x, p3_fit_y)]

fig = go.Figure()
layout = dict(
    width=W, height=H,
    margin=dict(l=0, r=0, t=0, b=0, autoexpand=False),
    paper_bgcolor="white", plot_bgcolor="white",
    showlegend=False,
    font=dict(family=FONT, size=19, color="black"),
    coloraxis=dict(
        colorscale=cscale, cmin=g_min, cmax=g_max,
        colorbar=dict(
            x=1118 / W, xanchor="left", y=1 - 4 / H, yanchor="top",
            len=289, lenmode="pixels", thickness=13, thicknessmode="pixels",
            outlinewidth=1.5, outlinecolor="black",
            ticks="inside", ticklen=4, tickwidth=1, tickcolor="black",
            tickvals=cb_ticks, ticktext=cb_ticktext,
            tickfont=dict(family=FONT, size=19, color="black"),
            xpad=0, ypad=0,
        ),
    ),
)

annotations = []
shapes = []


def axis_common():
    return dict(showline=True, mirror=True, linecolor="black", linewidth=2,
                ticks="inside", ticklen=5, tickwidth=1.2, tickcolor="black",
                showgrid=False, zeroline=False,
                tickfont=dict(family=FONT, size=19, color="black"))


for i in range(3):
    l, r = cols_px[i]
    t_id, b_id = i + 1, i + 4
    tsuf = "" if t_id == 1 else str(t_id)
    bsuf = str(b_id)
    xd = [l / W, r / W]
    layout["xaxis" + tsuf] = dict(axis_common(), domain=xd, range=x_range, anchor="y" + tsuf,
                                  tickvals=x_ticks, showticklabels=False)
    layout["yaxis" + tsuf] = dict(axis_common(), domain=[1 - top_px[1] / H, 1 - top_px[0] / H],
                                  range=top_range, anchor="x" + tsuf,
                                  tickvals=top_ticks, ticktext=top_ticktext, ticklabelstandoff=-5)
    layout["xaxis" + bsuf] = dict(axis_common(), domain=xd, range=x_range, anchor="y" + bsuf,
                                  tickvals=x_ticks, ticktext=x_ticktext, ticklabelstandoff=-2)
    layout["yaxis" + bsuf] = dict(axis_common(), domain=[1 - bot_px[1] / H, 1 - bot_px[0] / H],
                                  range=bot_ranges[i], anchor="x" + bsuf,
                                  tickvals=bot_ticks[i], ticktext=bot_ticktext[i], ticklabelstandoff=-5)

    xa_t, ya_t = "x" + tsuf, "y" + tsuf
    xa_b, ya_b = "x" + bsuf, "y" + bsuf

    # top panel
    for tx, ty, tg in tops[i]:
        fig.add_trace(go.Scatter(x=tx, y=ty, mode="markers", xaxis=xa_t, yaxis=ya_t,
                                 marker=dict(color=tg, coloraxis="coloraxis", size=6, line=dict(width=0)),
                                 hoverinfo="skip"))
    sx, sy = squares[i]
    fig.add_trace(go.Scatter(x=sx, y=sy, mode="markers", xaxis=xa_t, yaxis=ya_t,
                             marker=dict(symbol="square-open", size=9, color="black", line=dict(width=1.1, color="black"))))
    cx, cy = circles[i]
    fig.add_trace(go.Scatter(x=cx, y=cy, mode="markers", xaxis=xa_t, yaxis=ya_t,
                             marker=dict(symbol="circle-open", size=10, color="black", line=dict(width=0.9, color="black"))))
    fx, fy = fits[i]
    fig.add_trace(go.Scatter(x=fx, y=fy, mode="lines", xaxis=xa_t, yaxis=ya_t,
                             line=dict(color="#ff0000", width=3, shape="spline", smoothing=0.6)))
    fig.add_trace(go.Scatter(x=vec_red_x, y=vec_red_y, mode="lines", xaxis=xa_t, yaxis=ya_t,
                             line=dict(color="#9b0000", width=1.6)))
    fig.add_trace(go.Scatter(x=vec_blue_x, y=vec_blue_y, mode="lines", xaxis=xa_t, yaxis=ya_t,
                             line=dict(color="#0000a0", width=1.6)))

    # bottom panel
    shapes.append(dict(type="line", xref=xa_b + " domain", yref=ya_b, x0=0, x1=1, y0=0, y1=0,
                       line=dict(color="#9a9a9a", width=1), layer="below"))
    for bx, by, bg in bots[i]:
        fig.add_trace(go.Scatter(x=bx, y=by, mode="markers", xaxis=xa_b, yaxis=ya_b,
                                 marker=dict(color=bg, coloraxis="coloraxis", size=6, line=dict(width=0)),
                                 hoverinfo="skip"))
    fig.add_trace(go.Scatter(x=[offset_x0[i], offset_x1[i]], y=[offsets[i], offsets[i]], mode="lines",
                             xaxis=xa_b, yaxis=ya_b,
                             line=dict(color="black", width=2.2, dash="7px,3.5px")))
    lx, ly = label_pos[i]
    annotations.append(dict(xref=xa_b, yref=ya_b, x=lx, y=ly, xanchor="right", yanchor="middle",
                            text="−%.3f" % abs(offsets[i]), showarrow=False,
                            font=dict(family=FONT, size=21, color="black")))

    # axis titles
    annotations.append(dict(xref="paper", yref="paper", x=(l - 63) / W, y=1 - (top_px[0] + top_px[1]) / 2 / H,
                            xanchor="center", yanchor="middle", textangle=-90, showarrow=False,
                            text="<i>I</i><sub>E</sub> − <i>G</i><sub><i>Gaia</i></sub>",
                            font=dict(family=FONT, size=21, color="black")))
    annotations.append(dict(xref="paper", yref="paper", x=(l - 64) / W, y=1 - (bot_px[0] + bot_px[1]) / 2 / H,
                            xanchor="center", yanchor="middle", textangle=-90, showarrow=False,
                            text="Δ<i>I</i><sub>E</sub>",
                            font=dict(family=FONT, size=21, color="black")))
    annotations.append(dict(xref="paper", yref="paper", x=(l + r) / 2 / W, y=1 - 331 / H,
                            xanchor="center", yanchor="middle", showarrow=False,
                            text="<i>G</i><sub>BP</sub> − <i>G</i><sub>RP</sub>",
                            font=dict(family=FONT, size=21, color="black")))

# colour-bar title
annotations.append(dict(xref="paper", yref="paper", x=1186 / W, y=1 - 148 / H,
                        xanchor="center", yanchor="middle", textangle=-90, showarrow=False,
                        text="<i>G</i><sub><i>Gaia</i></sub>",
                        font=dict(family=FONT, size=21, color="black")))

layout["annotations"] = annotations
layout["shapes"] = shapes
fig.update_layout(**layout)
fig.write_html("out.html", config={"displayModeBar": False},
               post_script="document.body.style.margin='0';document.body.style.overflow='hidden';")
